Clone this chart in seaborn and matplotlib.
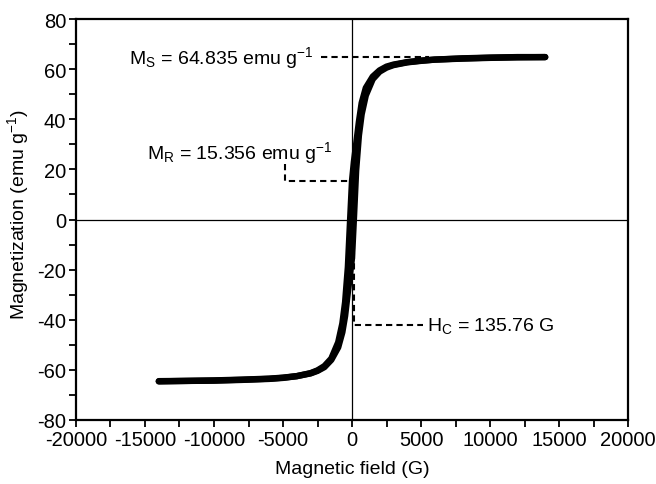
import matplotlib
matplotlib.use("Agg")
import matplotlib.pyplot as plt
import seaborn as sns
import pandas as pd
from matplotlib.ticker import MultipleLocator, FixedLocator

# ---- data ----
field_desc = [14000, 12000, 10000, 8000, 6000, 5000, 4000, 3000, 2500, 2000, 1500,
              1000, 700, 500, 300, 136, 0, -136, -300, -500, -700, -1000, -1500,
              -2000, -2500, -3000, -4000, -5000, -6000, -8000, -10000, -12000, -14000]
mag_desc = [64.8, 64.7, 64.5, 64.2, 63.8, 63.4, 62.8, 61.8, 61.0, 59.5, 57.0,
            52.5, 46.5, 39.0, 30.0, 23.0, 15.4, 0.0, -19.0, -33.0, -41.5, -49.0, -55.5,
            -58.5, -60.2, -61.3, -62.5, -63.2, -63.6, -64.0, -64.3, -64.4, -64.5]
field_asc = [-14000, -12000, -10000, -8000, -6000, -5000, -4000, -3000, -2500, -2000, -1500,
             -1000, -700, -500, -300, -136, 0, 136, 300, 500, 700, 1000, 1500,
             2000, 2500, 3000, 4000, 5000, 6000, 8000, 10000, 12000, 14000]
mag_asc = [-64.6, -64.4, -64.2, -63.9, -63.5, -63.1, -62.5, -61.4, -60.4, -58.9, -56.0,
           -51.0, -45.0, -38.5, -29.0, -21.5, -15.4, 0.0, 19.5, 33.5, 42.0, 49.5, 56.0,
           59.0, 60.6, 61.6, 62.7, 63.3, 63.8, 64.3, 64.6, 64.8, 64.8]

Ms = 64.835
Mr = 15.356
Hc = 135.76

x_ticks = [-20000, -15000, -10000, -5000, 0, 5000, 10000, 15000, 20000]
y_ticks = [-80, -60, -40, -20, 0, 20, 40, 60, 80]

sns.set_theme(style="white")
plt.rcParams["font.family"] = ["Liberation Sans", "DejaVu Sans"]
plt.rcParams["mathtext.fontset"] = "custom"
plt.rcParams["mathtext.rm"] = "Liberation Sans"
plt.rcParams["mathtext.it"] = "Liberation Sans"
plt.rcParams["axes.unicode_minus"] = False
for k in ("text.color", "axes.labelcolor", "xtick.color", "ytick.color"):
    plt.rcParams[k] = "black"

fig = plt.figure(figsize=(6.56, 4.85), dpi=100)
ax = fig.add_axes([76 / 656, 1 - 421 / 485, (628 - 76) / 656, (421 - 20) / 485])

df_d = pd.DataFrame({"H": field_desc, "M": mag_desc})
df_a = pd.DataFrame({"H": field_asc, "M": mag_asc})

ax.axhline(0, color="black", lw=0.9, zorder=1)
ax.axvline(0, color="black", lw=0.9, zorder=1)

dash_kw = dict(color="black", lw=1.5, dashes=(3, 2), zorder=2)
ax.plot([-2240, 5600], [Ms, Ms], **dash_kw)
ax.plot([-4855, -4855, 0], [22.3, Mr, Mr], **dash_kw)
ax.plot([Hc, Hc, 5150], [-5, -42, -42], **dash_kw)

for d in (df_d, df_a):
    sns.lineplot(data=d, x="H", y="M", ax=ax, sort=False, estimator=None,
                 color="black", lw=4.6, solid_capstyle="round", zorder=3)

fs_tick = 14.5
fs = 14
ax.text(-2800, Ms, r"M$_\mathrm{S}$ = 64.835 emu g$^{-1}$", ha="right", va="center", fontsize=fs)
ax.text(-1400, 27, r"M$_\mathrm{R}$ = 15.356 emu g$^{-1}$", ha="right", va="center", fontsize=fs)
ax.text(5400, -42, r"H$_\mathrm{C}$ = 135.76 G", ha="left", va="center", fontsize=fs)

ax.set_xlim(-20000, 20000)
ax.set_ylim(-80, 80)
ax.xaxis.set_major_locator(FixedLocator(x_ticks))
ax.yaxis.set_major_locator(FixedLocator(y_ticks))
ax.xaxis.set_minor_locator(MultipleLocator(2500))
ax.yaxis.set_minor_locator(MultipleLocator(10))
ax.set_xticklabels([str(v) for v in x_ticks])
ax.set_yticklabels([str(v) for v in y_ticks])
ax.tick_params(axis="both", which="both", direction="out", length=5, width=1.3,
               color="black", labelsize=fs_tick, pad=2)
ax.tick_params(axis="both", which="both", bottom=True, left=True, top=False, right=False)

for s in ax.spines.values():
    s.set_color("black")
    s.set_linewidth(1.6)

ax.set_xlabel("Magnetic field (G)", fontsize=fs, labelpad=8)
ax.set_ylabel(r"Magnetization (emu g$^{-1}$)", fontsize=fs)
ax.yaxis.set_label_coords(-0.082, 0.515)

fig.savefig("out.png", dpi=100)
